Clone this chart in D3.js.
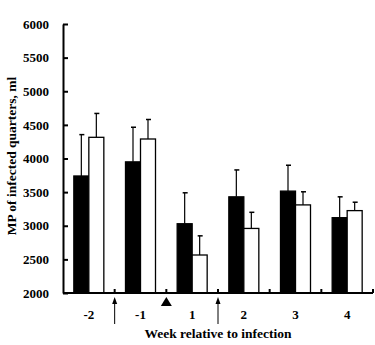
<!DOCTYPE html>
<html>
<head>
<meta charset="utf-8">
<script src="https://cdn.jsdelivr.net/npm/d3@7"></script>
<style>
  body { margin: 0; background: #fff; }
  svg text { font-family: "Liberation Serif", "DejaVu Serif", serif; font-weight: bold; }
</style>
</head>
<body>
<svg class="chart"></svg>
<script>
var weeks = ['-2', '-1', '1', '2', '3', '4'];
var blackMean = [3740, 3950, 3030, 3430, 3515, 3120];
var blackErr = [4355, 4465, 3490, 3830, 3900, 3430];
var whiteMean = [4315, 4290, 2565, 2960, 3310, 3225];
var whiteErr = [4670, 4580, 2850, 3200, 3505, 3350];
var yTicks = [2000, 2500, 3000, 3500, 4000, 4500, 5000, 5500, 6000];
// markers sit on the boundaries between weeks (index of week to the right)
var markers = [{at: 1, type: 'arrow'}, {at: 2, type: 'triangle'}, {at: 3, type: 'arrow'}];

var svg = d3.select('.chart')
            .attr('width', 375)
            .attr('height', 345);

var mLeft = 63, mRight = 373, mTop = 24, mBottom = 293;

var xScale = d3.scaleBand()
               .domain(weeks)
               .range([mLeft, mRight]);

var yScale = d3.scaleLinear()
               .domain([2000, 6000])
               .range([mBottom, mTop]);

var barW = 15;
var inner = (xScale.bandwidth() - 2 * barW) / 2;

var data = weeks.map(function (w, i) {
    return {week: w, b: blackMean[i], be: blackErr[i], w: whiteMean[i], we: whiteErr[i]};
});

var bars = [];
data.forEach(function (d) {
    bars.push({x: xScale(d.week) + inner, v: d.b, e: d.be, fill: '#000'});
    bars.push({x: xScale(d.week) + inner + barW, v: d.w, e: d.we, fill: '#fff'});
});

// error bars (upper only)
svg.selectAll('.err').data(bars).enter()
   .append('line')
   .attr('x1', d => d.x + barW / 2)
   .attr('x2', d => d.x + barW / 2)
   .attr('y1', d => yScale(d.v))
   .attr('y2', d => yScale(d.e))
   .attr('stroke', '#000')
   .attr('stroke-width', 1.2);

svg.selectAll('.cap').data(bars).enter()
   .append('line')
   .attr('x1', d => d.x + barW / 2 - 2)
   .attr('x2', d => d.x + barW / 2 + 3)
   .attr('y1', d => yScale(d.e))
   .attr('y2', d => yScale(d.e))
   .attr('stroke', '#000')
   .attr('stroke-width', 1.5);

svg.selectAll('.bar').data(bars).enter()
   .append('rect')
   .attr('x', d => d.x)
   .attr('y', d => yScale(d.v))
   .attr('width', barW)
   .attr('height', d => mBottom - yScale(d.v))
   .attr('fill', d => d.fill)
   .attr('stroke', '#000')
   .attr('stroke-width', 1.3);

// y axis
var yAxis = d3.axisLeft(yScale)
              .tickValues(yTicks)
              .tickFormat(d3.format('d'))
              .tickSizeInner(-5)
              .tickSizeOuter(0)
              .tickPadding(14);

var gy = svg.append('g')
   .attr('transform', 'translate(' + mLeft + ',0)')
   .call(yAxis);
gy.selectAll('text').style('font-size', '13px').attr('fill', '#000');
gy.select('.domain').attr('stroke-width', 2);
gy.selectAll('.tick line').attr('stroke-width', 2);

// x axis
var gx = svg.append('g')
   .attr('transform', 'translate(0,' + mBottom + ')');
gx.append('line')
  .attr('x1', mLeft)
  .attr('x2', mRight)
  .attr('stroke', '#000')
  .attr('stroke-width', 2);
gx.selectAll('.xt').data(weeks.slice(1).concat(['end'])).enter()
  .append('line')
  .attr('x1', (d, i) => i < weeks.length - 1 ? xScale(d) : mRight)
  .attr('x2', (d, i) => i < weeks.length - 1 ? xScale(d) : mRight)
  .attr('y1', 0)
  .attr('y2', -4)
  .attr('stroke', '#000')
  .attr('stroke-width', 2);
gx.selectAll('.xl').data(weeks).enter()
  .append('text')
  .attr('x', d => xScale(d) + xScale.bandwidth() / 2)
  .attr('y', 26)
  .attr('text-anchor', 'middle')
  .style('font-size', '13px')
  .text(d => d);

// markers
markers.forEach(function (m) {
    var x = xScale(weeks[m.at]);
    if (m.type === 'arrow') {
        svg.append('line')
           .attr('x1', x).attr('x2', x)
           .attr('y1', 324).attr('y2', 302)
           .attr('stroke', '#000')
           .attr('stroke-width', 1);
        svg.append('path')
           .attr('d', 'M' + (x - 2.5) + ',304 L' + x + ',297 L' + (x + 2.5) + ',304 Z')
           .attr('fill', '#000');
    } else {
        svg.append('path')
           .attr('d', 'M' + (x - 5.5) + ',306 L' + x + ',297 L' + (x + 5.5) + ',306 Z')
           .attr('fill', '#000');
    }
});

// titles
svg.append('text')
   .attr('x', 218)
   .attr('y', 338)
   .attr('text-anchor', 'middle')
   .style('font-size', '13.5px')
   .text('Week relative to infection');

svg.append('text')
   .attr('transform', 'translate(16,156) rotate(-90)')
   .attr('text-anchor', 'middle')
   .style('font-size', '13.5px')
   .text('MP of infected quarters, ml');
</script>
</body>
</html>
